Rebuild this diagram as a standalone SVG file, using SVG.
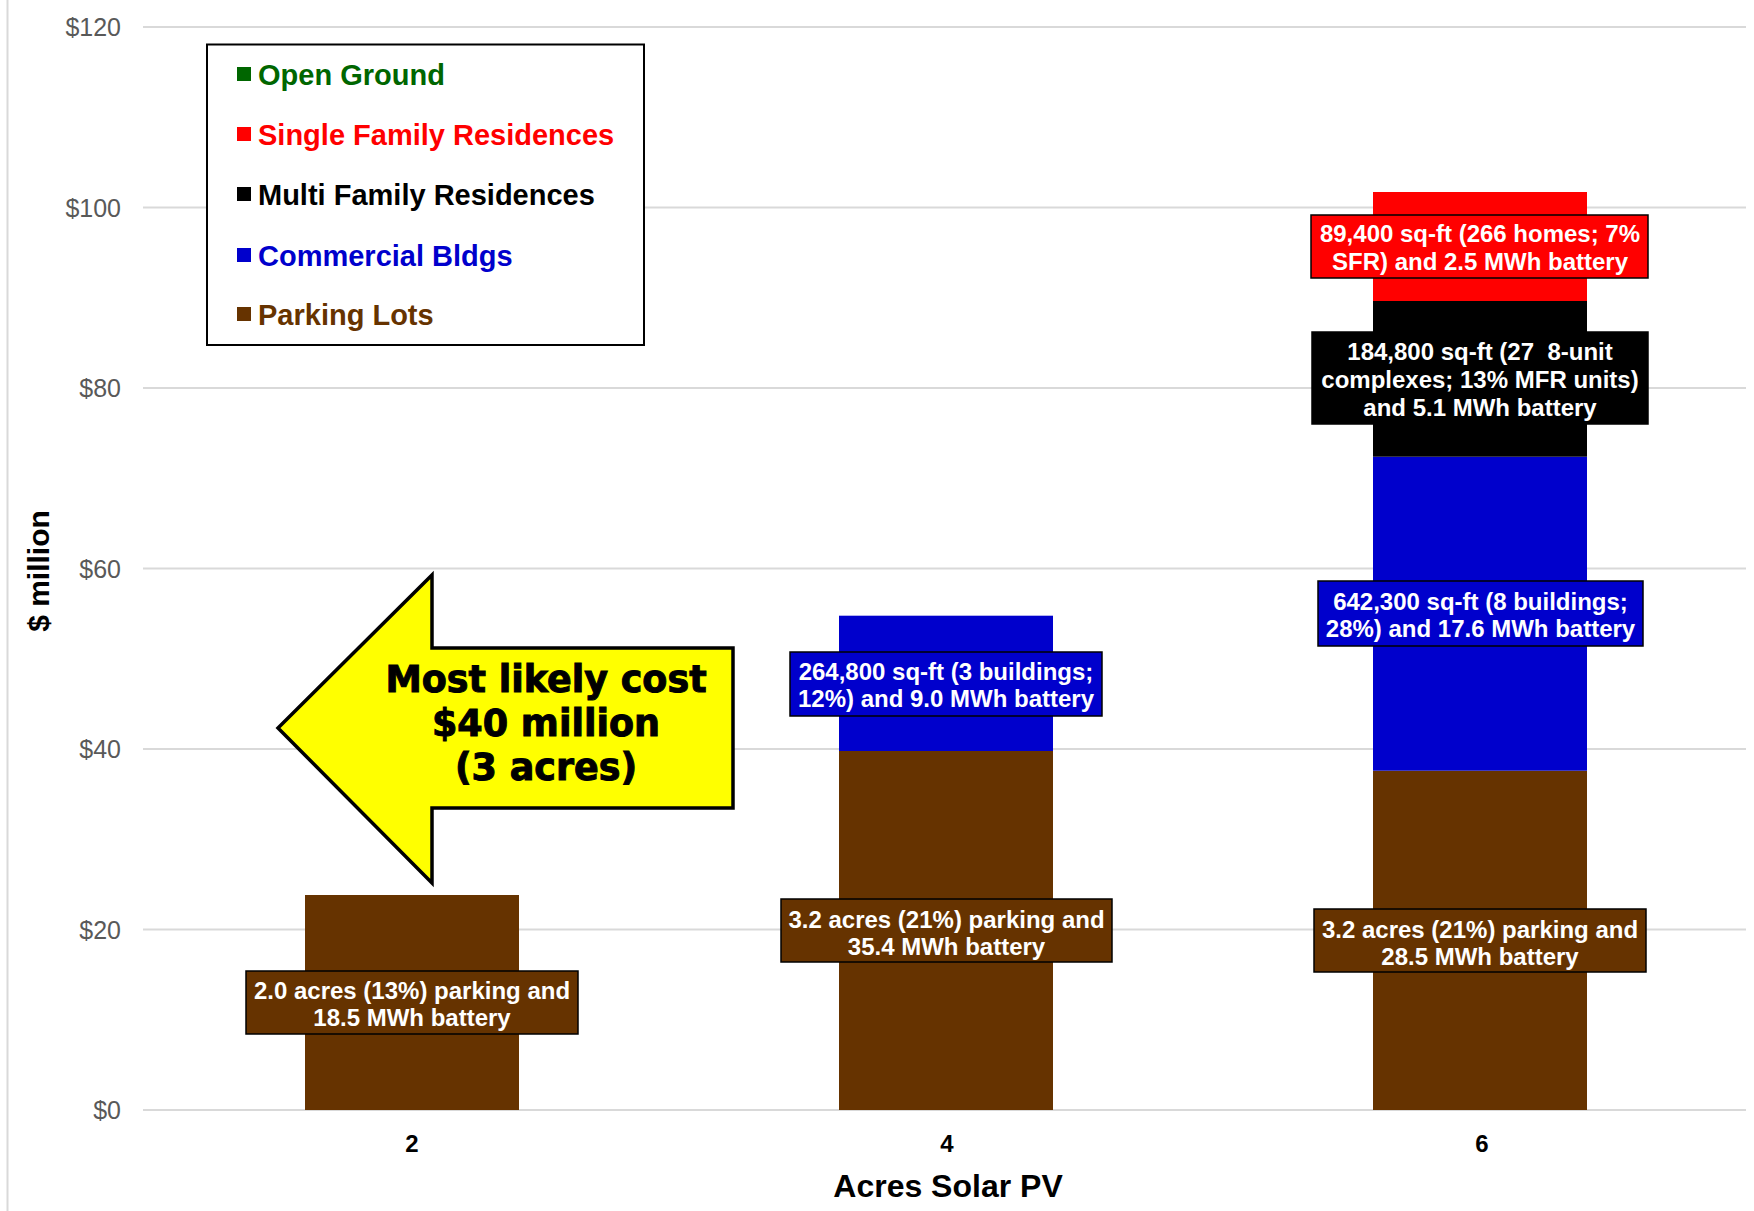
<svg xmlns="http://www.w3.org/2000/svg" width="1754" height="1211" viewBox="0 0 1754 1211">
<style>
.grid{stroke:#d9d9d9;stroke-width:2;fill:none}
.ytick{font-family:"Liberation Sans",Arial,sans-serif;font-size:25px;fill:#595959;text-anchor:end}
.xtick{font-family:"Liberation Sans",Arial,sans-serif;font-size:24px;font-weight:bold;fill:#000;text-anchor:middle}
.axtitle{font-family:"Liberation Sans",Arial,sans-serif;font-size:31px;font-weight:bold;fill:#000;text-anchor:middle}
.lbl{font-family:"Liberation Sans",Arial,sans-serif;font-size:24px;font-weight:bold;fill:#fff;text-anchor:middle}
.lblbox{stroke:#000;stroke-width:1.5}
.leg{font-family:"Liberation Sans",Arial,sans-serif;font-size:29px;font-weight:bold}
.brown{fill:#663300}.blue{fill:#0000cc}.black{fill:#000}.red{fill:#ff0000}.green{fill:#006600}
.call{font-family:"DejaVu Sans","Liberation Sans",sans-serif;font-size:36.5px;font-weight:bold;fill:#000;stroke:#000;stroke-width:1;text-anchor:middle}
</style>
<rect width="1754" height="1211" fill="#fff"/>
<line x1="7.5" y1="0" x2="7.5" y2="1211" class="grid"/>
<g id="gridlines">
<line class="grid" x1="143" y1="1110" x2="1746" y2="1110"/>
<line class="grid" x1="143" y1="929.5" x2="1746" y2="929.5"/>
<line class="grid" x1="143" y1="749" x2="1746" y2="749"/>
<line class="grid" x1="143" y1="568.5" x2="1746" y2="568.5"/>
<line class="grid" x1="143" y1="388" x2="1746" y2="388"/>
<line class="grid" x1="143" y1="207.5" x2="1746" y2="207.5"/>
<line class="grid" x1="143" y1="27" x2="1746" y2="27"/>
</g>
<g id="y-axis">
<text class="ytick" x="121" y="1119">$0</text>
<text class="ytick" x="121" y="938.5">$20</text>
<text class="ytick" x="121" y="758">$40</text>
<text class="ytick" x="121" y="577.5">$60</text>
<text class="ytick" x="121" y="397">$80</text>
<text class="ytick" x="121" y="216.5">$100</text>
<text class="ytick" x="121" y="36">$120</text>
<text class="axtitle" transform="translate(49,571) rotate(-90)" style="font-size:30px">$ million</text>
</g>
<g id="x-axis">
<text class="xtick" x="412" y="1152">2</text>
<text class="xtick" x="947" y="1152">4</text>
<text class="xtick" x="1482" y="1152">6</text>
<text class="axtitle" x="948" y="1197" style="font-size:32px">Acres Solar PV</text>
</g>
<g id="bar-2">
<rect class="brown" x="305" y="895" width="214" height="215"/>
</g>
<g id="bar-4">
<rect class="brown" x="839" y="751" width="214" height="359"/>
<rect class="blue" x="839" y="615.7" width="214" height="135.3"/>
</g>
<g id="bar-6">
<rect class="brown" x="1373" y="770.7" width="214" height="339.3"/>
<rect class="blue" x="1373" y="456.7" width="214" height="314"/>
<rect class="black" x="1373" y="301" width="214" height="155.7"/>
<rect class="red" x="1373" y="192" width="214" height="109"/>
</g>
<g id="label-2-parking">
<rect class="lblbox brown" x="246" y="971" width="332" height="63"/>
<text class="lbl" x="412" y="999">2.0 acres (13%) parking and</text>
<text class="lbl" x="412" y="1026">18.5 MWh battery</text>
</g>
<g id="label-4-parking">
<rect class="lblbox brown" x="781" y="899" width="331" height="63"/>
<text class="lbl" x="946.5" y="928">3.2 acres (21%) parking and</text>
<text class="lbl" x="946.5" y="955">35.4 MWh battery</text>
</g>
<g id="label-4-commercial">
<rect class="lblbox blue" x="790" y="652" width="312" height="64"/>
<text class="lbl" x="946" y="680">264,800 sq-ft (3 buildings;</text>
<text class="lbl" x="946" y="707">12%) and 9.0 MWh battery</text>
</g>
<g id="label-6-parking">
<rect class="lblbox brown" x="1314" y="909" width="332" height="63"/>
<text class="lbl" x="1480" y="938">3.2 acres (21%) parking and</text>
<text class="lbl" x="1480" y="965">28.5 MWh battery</text>
</g>
<g id="label-6-commercial">
<rect class="lblbox blue" x="1318" y="581" width="325" height="65"/>
<text class="lbl" x="1480.5" y="610">642,300 sq-ft (8 buildings;</text>
<text class="lbl" x="1480.5" y="637">28%) and 17.6 MWh battery</text>
</g>
<g id="label-6-multifamily">
<rect class="lblbox black" x="1312" y="332" width="336" height="92"/>
<text class="lbl" x="1480" y="360">184,800 sq-ft (27&#160; 8-unit</text>
<text class="lbl" x="1480" y="388">complexes; 13% MFR units)</text>
<text class="lbl" x="1480" y="416">and 5.1 MWh battery</text>
</g>
<g id="label-6-singlefamily">
<rect class="lblbox red" x="1311" y="215" width="337" height="63"/>
<text class="lbl" x="1480" y="242">89,400 sq-ft (266 homes; 7%</text>
<text class="lbl" x="1480" y="270">SFR) and 2.5 MWh battery</text>
</g>
<g id="legend">
<rect x="207" y="44.5" width="437" height="300.5" fill="#fff" stroke="#000" stroke-width="2"/>
<rect class="green" x="237" y="67" width="14" height="14"/>
<text class="leg green" x="258" y="85">Open Ground</text>
<rect class="red" x="237" y="127" width="14" height="14"/>
<text class="leg red" x="258" y="145">Single Family Residences</text>
<rect class="black" x="237" y="187" width="14" height="14"/>
<text class="leg black" x="258" y="205">Multi Family Residences</text>
<rect class="blue" x="237" y="248" width="14" height="14"/>
<text class="leg blue" x="258" y="266">Commercial Bldgs</text>
<rect class="brown" x="237" y="307" width="14" height="14"/>
<text class="leg brown" x="258" y="325">Parking Lots</text>
</g>
<g id="callout">
<polygon points="278,728 432,575 432,648 733,648 733,808 432,808 432,883" fill="#ffff00" stroke="#000" stroke-width="3.5"/>
<text class="call" x="546" y="692">Most likely cost</text>
<text class="call" x="546" y="736">$40 million</text>
<text class="call" x="546" y="780">(3 acres)</text>
</g>
</svg>
